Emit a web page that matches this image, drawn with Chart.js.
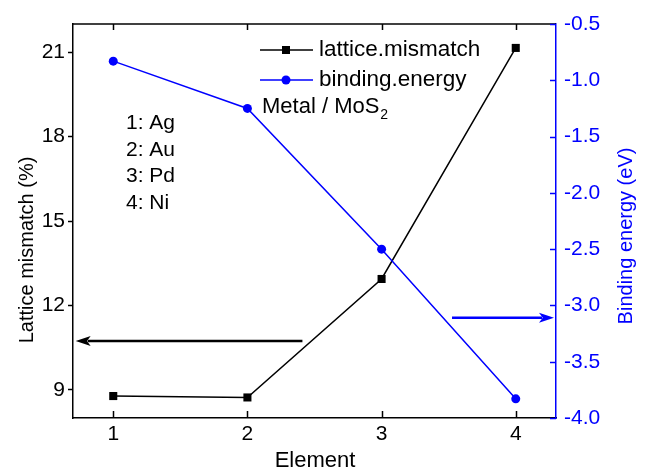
<!DOCTYPE html>
<html>
<head>
<meta charset="utf-8">
<script src="https://cdn.jsdelivr.net/npm/chart.js@4.4.1/dist/chart.umd.min.js"></script>
<style>
  html, body { margin: 0; padding: 0; background: #fff; }
  #wrap { width: 646px; height: 469px; }
</style>
</head>
<body>
<div id="wrap"><canvas id="g1" width="646" height="469"></canvas></div>
<script>
// dados
const elements = [1, 2, 3, 4];
const latticeMismatch = [8.78, 8.73, 12.94, 21.15];
const bindingEnergy = [-0.83, -1.25, -2.50, -3.83];

const xTicks = [1, 2, 3, 4];
const leftTicks = [9, 12, 15, 18, 21];
const rightTicks = [-0.5, -1.0, -1.5, -2.0, -2.5, -3.0, -3.5, -4.0];

const metalLabels = ['1: Ag', '2: Au', '3: Pd', '4: Ni'];

// setas: [x inicio, x ponta, y]
const arrowLeft = [2.41, 0.72, 10.74];   // eixo da esquerda
const arrowRight = [3.525, 4.285, -3.11]; // eixo da direita

const FONT = "'Liberation Sans', Arial, sans-serif";
const BLUE = '#0000ff';

const pts1 = elements.map((x, i) => ({ x: x, y: latticeMismatch[i] }));
const pts2 = elements.map((x, i) => ({ x: x, y: bindingEnergy[i] }));

function drawArrow(c, x0, x1, y, color) {
  const dir = x1 > x0 ? 1 : -1;
  const headLen = 15, headW = 5;
  c.save();
  c.strokeStyle = color;
  c.fillStyle = color;
  c.lineWidth = 2.5;
  c.beginPath();
  c.moveTo(x0, y);
  c.lineTo(x1 - dir * headLen * 0.8, y);
  c.stroke();
  c.beginPath();
  c.moveTo(x1, y);
  c.lineTo(x1 - dir * headLen, y - headW);
  c.lineTo(x1 - dir * headLen * 0.75, y);
  c.lineTo(x1 - dir * headLen, y + headW);
  c.closePath();
  c.fill();
  c.restore();
}

const extras = {
  id: 'extras',
  afterDraw(chart) {
    const c = chart.ctx;
    const a = chart.chartArea;
    const sx = chart.scales.x, sy = chart.scales.y, sy1 = chart.scales.y1;

    c.save();
    // moldura de cima
    c.strokeStyle = '#000';
    c.lineWidth = 1.5;
    c.beginPath();
    c.moveTo(a.left, a.top);
    c.lineTo(a.right, a.top);
    c.stroke();

    // ticks para dentro (topo e base)
    xTicks.forEach(v => {
      const px = Math.round(sx.getPixelForValue(v)) + 0.5;
      c.beginPath();
      c.moveTo(px, a.top);
      c.lineTo(px, a.top + 6);
      c.moveTo(px, a.bottom);
      c.lineTo(px, a.bottom - 7);
      c.stroke();
    });

    // ticks para dentro no eixo azul
    c.strokeStyle = BLUE;
    rightTicks.forEach(v => {
      const py = Math.round(sy1.getPixelForValue(v)) + 0.5;
      c.beginPath();
      c.moveTo(a.right, py);
      c.lineTo(a.right - 6, py);
      c.stroke();
    });

    // setas
    drawArrow(c, sx.getPixelForValue(arrowLeft[0]), sx.getPixelForValue(arrowLeft[1]),
      sy.getPixelForValue(arrowLeft[2]), '#000');
    drawArrow(c, sx.getPixelForValue(arrowRight[0]), sx.getPixelForValue(arrowRight[1]),
      sy1.getPixelForValue(arrowRight[2]), BLUE);

    // titulos dos eixos
    c.font = '20px ' + FONT;
    c.textAlign = 'center';
    c.textBaseline = 'middle';
    c.fillStyle = '#000';
    c.save();
    c.translate(27, 250);
    c.rotate(-Math.PI / 2);
    c.fillText('Lattice mismatch (%)', 0, 0);
    c.restore();

    c.fillStyle = BLUE;
    c.save();
    c.translate(626, 236);
    c.rotate(-Math.PI / 2);
    c.fillText('Binding energy (eV)', 0, 0);
    c.restore();

    c.fillStyle = '#000';
    c.textBaseline = 'alphabetic';
    c.font = '22px ' + FONT;
    c.fillText('Element', 315, 467);

    // legenda
    c.textAlign = 'left';
    c.textBaseline = 'middle';
    c.font = '22.5px ' + FONT;
    const legY = [50, 80];
    const legColors = ['#000', BLUE];
    const legNames = ['lattice.mismatch', 'binding.energy'];
    legY.forEach((y, i) => {
      c.strokeStyle = legColors[i];
      c.fillStyle = legColors[i];
      c.lineWidth = 1.5;
      c.beginPath();
      c.moveTo(260, y);
      c.lineTo(313, y);
      c.stroke();
      if (i === 0) {
        c.fillRect(282, y - 4, 8, 8);
      } else {
        c.beginPath();
        c.arc(286, y, 4.5, 0, Math.PI * 2);
        c.fill();
      }
      c.fillStyle = '#000';
      c.fillText(legNames[i], 319, y);
    });

    // Metal / MoS2
    c.font = '22px ' + FONT;
    c.fillText('Metal / MoS', 262, 107);
    const w = c.measureText('Metal / MoS').width;
    c.font = '14px ' + FONT;
    c.fillText('2', 262 + w + 1, 115);

    // lista dos metais
    c.font = '21px ' + FONT;
    const listY = [123, 150, 176, 203];
    metalLabels.forEach((t, i) => c.fillText(t, 126, listY[i]));
    c.restore();
  }
};

const ctx = document.getElementById('g1').getContext('2d');
new Chart(ctx, {
  type: 'line',
  data: {
    datasets: [
      {
        label: 'binding.energy',
        data: pts2,
        yAxisID: 'y1',
        borderColor: BLUE,
        backgroundColor: BLUE,
        borderWidth: 1.5,
        pointStyle: 'circle',
        pointRadius: 4.5,
        pointBorderWidth: 0,
        tension: 0
      },
      {
        label: 'lattice.mismatch',
        data: pts1,
        yAxisID: 'y',
        borderColor: '#000',
        backgroundColor: '#000',
        borderWidth: 1.5,
        pointStyle: 'rect',
        pointRadius: 5.7,
        pointBorderWidth: 0,
        tension: 0
      }
    ]
  },
  options: {
    responsive: false,
    animation: false,
    layout: { padding: { top: 24, left: 0, right: 0, bottom: 0 } },
    plugins: {
      legend: { display: false },
      tooltip: { enabled: false }
    },
    scales: {
      x: {
        type: 'linear',
        min: 0.7,
        max: 4.3,
        afterFit: s => { s.height = 51; },
        afterBuildTicks: s => { s.ticks = xTicks.map(v => ({ value: v })); },
        grid: { display: true, drawOnChartArea: false, drawTicks: false },
        border: { display: true, color: '#000', width: 1.5 },
        ticks: {
          padding: 4,
          color: '#000',
          font: { family: FONT, size: 21 },
          callback: v => String(v)
        }
      },
      y: {
        type: 'linear',
        position: 'left',
        min: 8,
        max: 22,
        afterFit: s => { s.width = 73; },
        afterBuildTicks: s => { s.ticks = leftTicks.map(v => ({ value: v })); },
        grid: { drawOnChartArea: false, drawTicks: true, tickLength: 5, tickColor: '#000', tickWidth: 1.5 },
        border: { display: true, color: '#000', width: 1.5 },
        ticks: {
          padding: 3,
          color: '#000',
          font: { family: FONT, size: 21 },
          callback: v => String(v)
        }
      },
      y1: {
        type: 'linear',
        position: 'right',
        min: -4,
        max: -0.5,
        afterFit: s => { s.width = 90; },
        afterBuildTicks: s => { s.ticks = rightTicks.map(v => ({ value: v })); },
        grid: { drawOnChartArea: false, drawTicks: false },
        border: { display: true, color: BLUE, width: 1.5 },
        ticks: {
          padding: 8,
          color: BLUE,
          font: { family: FONT, size: 21 },
          callback: v => v.toFixed(1)
        }
      }
    }
  },
  plugins: [extras]
});
</script>
</body>
</html>
